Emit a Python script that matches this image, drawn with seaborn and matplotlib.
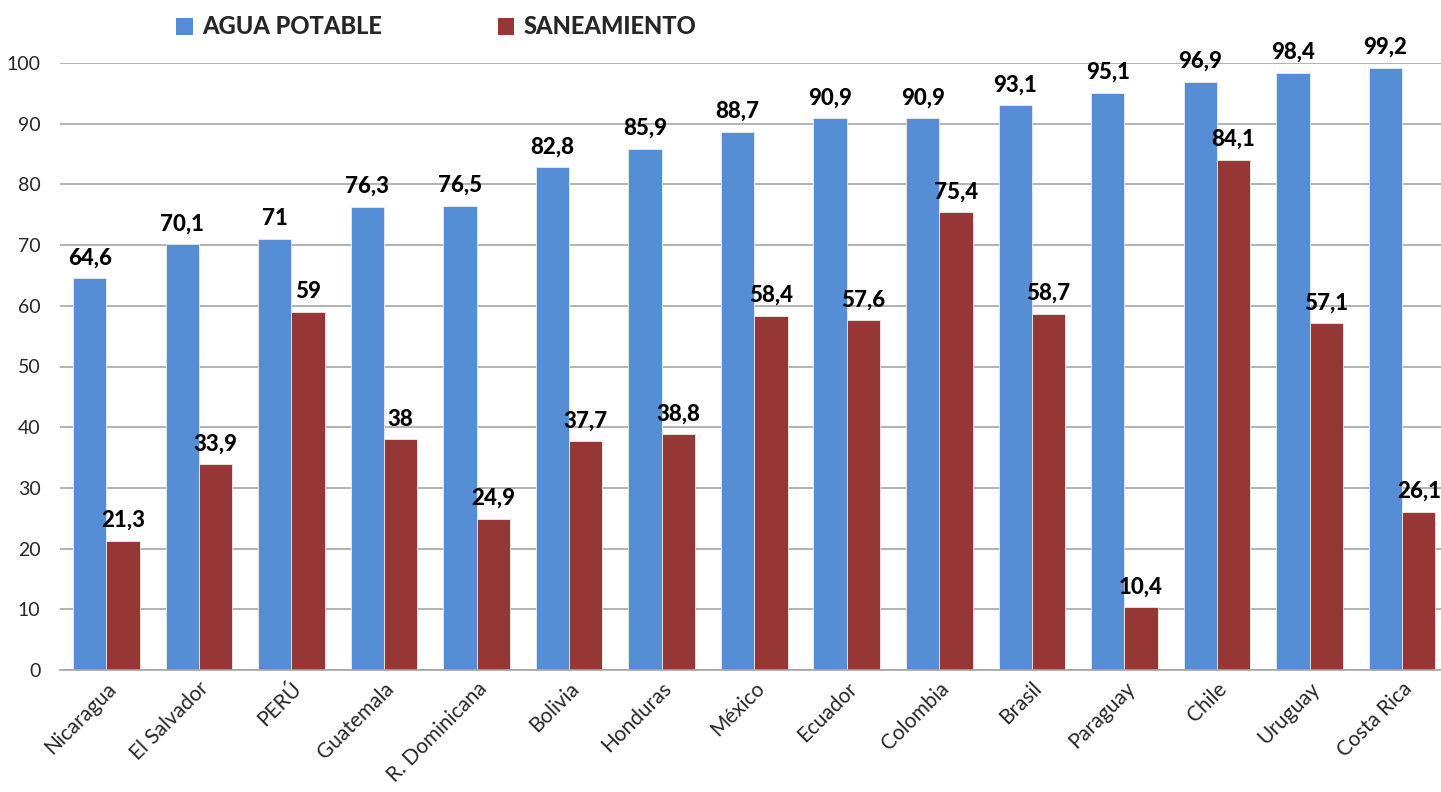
import numpy as np
import pandas as pd
import matplotlib
matplotlib.use("Agg")
import matplotlib.pyplot as plt
import seaborn as sns
from matplotlib.patches import Patch

paises = ["Nicaragua", "El Salvador", "PERÚ", "Guatemala", "R. Dominicana", "Bolivia",
          "Honduras", "México", "Ecuador", "Colombia", "Brasil", "Paraguay", "Chile",
          "Uruguay", "Costa Rica"]
agua = [64.6, 70.1, 71, 76.3, 76.5, 82.8, 85.9, 88.7, 90.9, 90.9, 93.1, 95.1, 96.9, 98.4, 99.2]
saneamiento = [21.3, 33.9, 59, 38, 24.9, 37.7, 38.8, 58.4, 57.6, 75.4, 58.7, 10.4, 84.1, 57.1, 26.1]
series = ["AGUA POTABLE", "SANEAMIENTO"]
colores = ["#558ED5", "#953735"]

df = pd.DataFrame({
    "pais": paises * 2,
    "valor": agua + saneamiento,
    "serie": [series[0]] * len(paises) + [series[1]] * len(paises),
})

sns.set_style("white")
plt.rcParams["font.family"] = ["Lato", "DejaVu Sans"]

fig = plt.figure(figsize=(14.41, 7.92), dpi=100)
ax = fig.add_axes([60 / 1441, 1 - 670 / 792, 1 - 60 / 1441, (670 - 63) / 792])

sns.barplot(data=df, x="pais", y="valor", hue="serie", hue_order=series,
            palette=colores, width=0.72, saturation=1, ax=ax,
            edgecolor="#EDEDED", linewidth=0.6, legend=False)

for cont in ax.containers:
    for rect in cont:
        h = rect.get_height()
        txt = f"{h:g}".replace(".", ",")
        ax.annotate(txt, (rect.get_x() + rect.get_width() / 2, h),
                    xytext=(0, 7), textcoords="offset points",
                    ha="center", va="bottom", fontsize=16, fontweight="black",
                    color="black", annotation_clip=False)

ax.set_ylim(0, 100)
ax.set_xlim(-0.5, 14.42)
ax.set_yticks(np.arange(0, 101, 10))
ax.yaxis.grid(True, color="#A6A6A6", linewidth=1.2)
ax.set_axisbelow(True)
for s in ["top", "right", "left"]:
    ax.spines[s].set_visible(False)
ax.spines["bottom"].set_color("#A6A6A6")
ax.spines["bottom"].set_linewidth(1.2)
ax.set_xlabel("")
ax.set_ylabel("")
ax.tick_params(axis="y", labelsize=14, length=0, pad=14)
ax.tick_params(axis="x", labelsize=15, length=0, pad=6)
plt.setp(ax.get_xticklabels(), rotation=45, ha="right", rotation_mode="anchor")

handles = [Patch(facecolor=c, edgecolor="none") for c in colores]
fig.legend(handles, series, loc="center left", bbox_to_anchor=(155 / 1441, 1 - 27 / 792),
           ncol=2, frameon=False, handlelength=0.7, handleheight=0.7,
           handletextpad=0.4, columnspacing=4.9,
           prop={"size": 17, "weight": "black"})

fig.savefig("out.png", dpi=100)
